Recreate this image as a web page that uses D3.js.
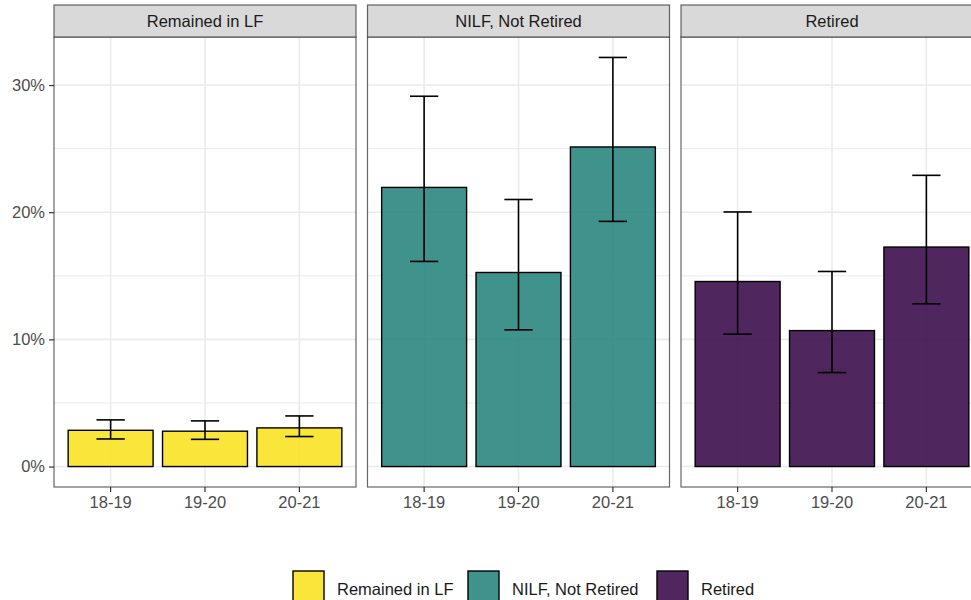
<!DOCTYPE html>
<html>
<head>
<meta charset="utf-8">
<script src="https://cdn.jsdelivr.net/npm/d3@7"></script>
<style>
html,body{margin:0;padding:0;background:#fff;}
svg{display:block;font-family:"Liberation Sans",Arial,Helvetica,sans-serif;}
</style>
</head>
<body>
<svg id="chart" width="971" height="600"></svg>
<script>
// ---- data ----
const categories = ["18-19", "19-20", "20-21"];
const groups = ["Remained in LF", "NILF, Not Retired", "Retired"];
const remainedValues = [2.85, 2.78, 3.04];
const remainedLower  = [2.17, 2.14, 2.36];
const remainedUpper  = [3.67, 3.59, 3.98];
const nilfValues = [21.95, 15.26, 25.13];
const nilfLower  = [16.13, 10.75, 19.28];
const nilfUpper  = [29.12, 21.0, 32.17];
const retiredValues = [14.55, 10.69, 17.26];
const retiredLower  = [10.41, 7.39, 12.8];
const retiredUpper  = [20.02, 15.34, 22.9];
const yTicks = [0, 10, 20, 30];
const yMinor = [5, 15, 25];
const groupColors = ["#F9E225", "#2B867F", "#3D0E4C"];

const series = [
  {name: groups[0], values: remainedValues, lower: remainedLower, upper: remainedUpper, color: groupColors[0]},
  {name: groups[1], values: nilfValues, lower: nilfLower, upper: nilfUpper, color: groupColors[1]},
  {name: groups[2], values: retiredValues, lower: retiredLower, upper: retiredUpper, color: groupColors[2]}
];

// ---- layout ----
const svg = d3.select("#chart");
const panelTop = 37, panelBottom = 487, stripTop = 5;
const panelW = 302;
const panelLefts = [54, 367.5, 681];
const fontSize = 16.5;
const textCol = "#4D4D4D", lineCol = "#333333";

const maxY = d3.max(series, s => d3.max(s.upper));
const pad = maxY * 0.05;
const y = d3.scaleLinear().domain([0 - pad, maxY + pad]).range([panelBottom, panelTop]);

series.forEach((s, i) => {
  const left = panelLefts[i];
  const x = d3.scaleBand().domain(categories).range([left, left + panelW]).paddingInner(0.1).paddingOuter(0.15);
  const g = svg.append("g");

  // panel background
  g.append("rect").attr("x", left).attr("y", panelTop).attr("width", panelW).attr("height", panelBottom - panelTop).attr("fill", "#fff");

  // minor grid
  g.selectAll(".ymin").data(yMinor).enter().append("line")
    .attr("x1", left).attr("x2", left + panelW)
    .attr("y1", d => y(d)).attr("y2", d => y(d))
    .attr("stroke", "#EBEBEB").attr("stroke-width", 1);
  // major grid
  g.selectAll(".ymaj").data(yTicks).enter().append("line")
    .attr("x1", left).attr("x2", left + panelW)
    .attr("y1", d => y(d)).attr("y2", d => y(d))
    .attr("stroke", "#EBEBEB").attr("stroke-width", 1.6);
  g.selectAll(".xmaj").data(categories).enter().append("line")
    .attr("x1", d => x(d) + x.bandwidth() / 2).attr("x2", d => x(d) + x.bandwidth() / 2)
    .attr("y1", panelTop).attr("y2", panelBottom)
    .attr("stroke", "#EBEBEB").attr("stroke-width", 1.6);

  // bars
  g.selectAll(".bar").data(categories).enter().append("rect")
    .attr("x", d => x(d)).attr("width", x.bandwidth())
    .attr("y", (d, j) => y(s.values[j]))
    .attr("height", (d, j) => y(0) - y(s.values[j]))
    .attr("fill", s.color).attr("fill-opacity", 0.9)
    .attr("stroke", "#000").attr("stroke-width", 1.4);

  // error bars
  const capW = x.step() * 0.3;
  const eb = g.selectAll(".eb").data(categories).enter().append("g")
    .attr("stroke", "#000").attr("stroke-width", 1.6);
  eb.append("line")
    .attr("x1", d => x(d) + x.bandwidth() / 2).attr("x2", d => x(d) + x.bandwidth() / 2)
    .attr("y1", (d, j) => y(s.lower[j])).attr("y2", (d, j) => y(s.upper[j]));
  eb.append("line")
    .attr("x1", d => x(d) + x.bandwidth() / 2 - capW / 2).attr("x2", d => x(d) + x.bandwidth() / 2 + capW / 2)
    .attr("y1", (d, j) => y(s.upper[j])).attr("y2", (d, j) => y(s.upper[j]));
  eb.append("line")
    .attr("x1", d => x(d) + x.bandwidth() / 2 - capW / 2).attr("x2", d => x(d) + x.bandwidth() / 2 + capW / 2)
    .attr("y1", (d, j) => y(s.lower[j])).attr("y2", (d, j) => y(s.lower[j]));

  // panel border
  g.append("rect").attr("x", left).attr("y", panelTop).attr("width", panelW).attr("height", panelBottom - panelTop)
    .attr("fill", "none").attr("stroke", lineCol).attr("stroke-opacity", 0.75).attr("stroke-width", 1.2);

  // strip
  g.append("rect").attr("x", left).attr("y", stripTop).attr("width", panelW).attr("height", panelTop - stripTop)
    .attr("fill", "#D9D9D9").attr("stroke", lineCol).attr("stroke-opacity", 0.75).attr("stroke-width", 1.2);
  g.append("text").attr("x", left + panelW / 2).attr("y", (stripTop + panelTop) / 2)
    .attr("text-anchor", "middle").attr("dominant-baseline", "central")
    .attr("font-size", fontSize).attr("fill", "#1A1A1A").text(s.name);

  // x axis
  const xAxis = d3.axisBottom(x).tickSize(5).tickSizeOuter(0).tickPadding(4);
  const xa = g.append("g").attr("transform", `translate(0,${panelBottom})`).call(xAxis);
  xa.select(".domain").remove();
  xa.selectAll(".tick line").attr("stroke", lineCol).attr("stroke-width", 1.2);
  xa.selectAll(".tick text").attr("fill", textCol).attr("font-size", fontSize).attr("font-family", null);

  // y axis only on first panel
  if (i === 0) {
    const yAxis = d3.axisLeft(y).tickValues(yTicks).tickFormat(d => d + "%").tickSize(5).tickSizeOuter(0).tickPadding(4);
    const ya = g.append("g").attr("transform", `translate(${left},0)`).call(yAxis);
    ya.select(".domain").remove();
    ya.selectAll(".tick line").attr("stroke", lineCol).attr("stroke-width", 1.2);
    ya.selectAll(".tick text").attr("fill", textCol).attr("font-size", fontSize).attr("font-family", null);
  }
});

// ---- legend ----
const legendKeys = [293, 468, 657];
const leg = svg.append("g");
series.forEach((s, i) => {
  leg.append("rect").attr("x", legendKeys[i]).attr("y", 571).attr("width", 31).attr("height", 34)
    .attr("fill", s.color).attr("fill-opacity", 0.9).attr("stroke", "#000").attr("stroke-width", 1.4);
  leg.append("text").attr("x", legendKeys[i] + 44).attr("y", 589)
    .attr("dominant-baseline", "central").attr("font-size", fontSize).attr("fill", "#1A1A1A").text(s.name);
});
</script>
</body>
</html>
